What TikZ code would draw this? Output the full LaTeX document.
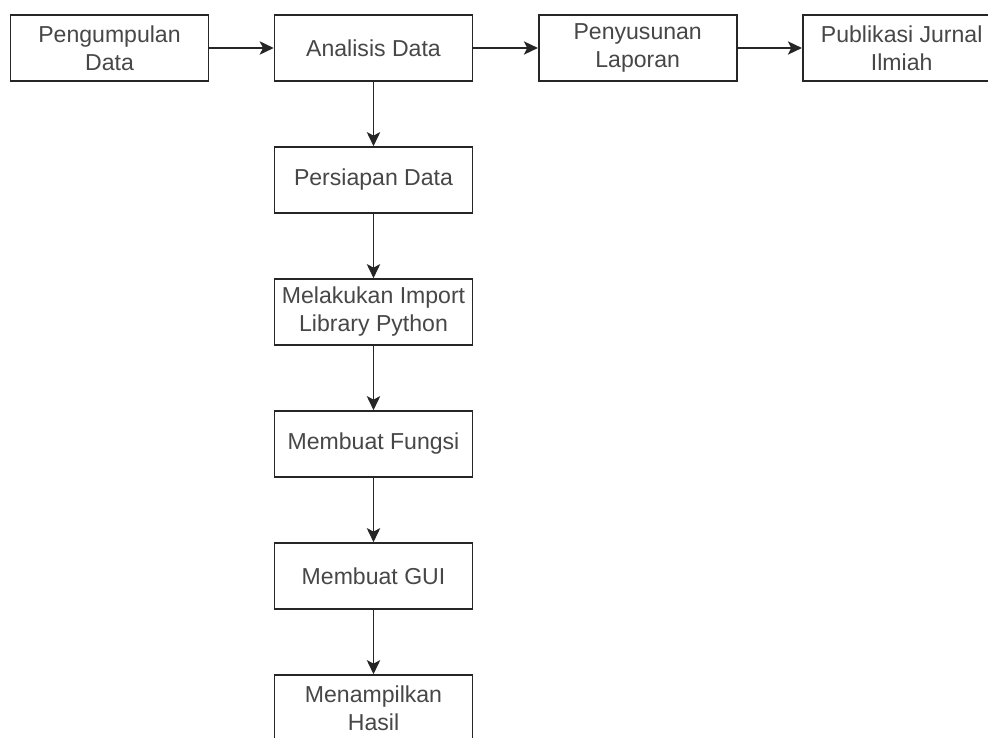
\documentclass[tikz,border=0pt]{standalone}
\usepackage{fontspec}
\setmainfont{Liberation Sans}
\usetikzlibrary{arrows.meta}

\tikzset{
  stepbox/.style={draw=black!85, line width=1.2pt, fill=white, minimum width=148.5pt, minimum height=49.5pt,
    inner sep=0pt, align=center, text=black!72, font=\fontsize{17.3}{21}\selectfont},
  flow/.style={draw=black!85, line width=1.2pt, -{Stealth[length=10.5pt,width=10pt,inset=2.5pt]}}
}

\begin{document}
\begin{tikzpicture}[x=0.75pt,y=0.75pt,yscale=-1,xscale=1]
\useasboundingbox (0,0) rectangle (988,738);

% Top row
\node [stepbox] (kumpul) at (109.5,48) {Pengumpulan\\Data};
\node [stepbox] (analisis) at (373.5,48) {Analisis Data};
\node [stepbox] (susun) at (637.7,48) {Penyusunan\\Laporan};
\node [stepbox] (publikasi) at (901.7,48) {Publikasi Jurnal\\Ilmiah};

% Column below Analisis Data
\node [stepbox] (persiapan) at (373.5,180) {Persiapan Data};
\node [stepbox] (impor) at (373.5,312) {Melakukan Import\\Library Python};
\node [stepbox] (fungsi) at (373.5,444) {Membuat Fungsi};
\node [stepbox] (gui) at (373.5,576) {Membuat GUI};
\node [stepbox] (hasil) at (373.5,708) {Menampilkan\\Hasil};

% Arrows
\draw [flow] (kumpul) -- (analisis);
\draw [flow] (analisis) -- (susun);
\draw [flow] (susun) -- (publikasi);
\draw [flow] (analisis) -- (persiapan);
\draw [flow] (persiapan) -- (impor);
\draw [flow] (impor) -- (fungsi);
\draw [flow] (fungsi) -- (gui);
\draw [flow] (gui) -- (hasil);

\end{tikzpicture}
\end{document}
